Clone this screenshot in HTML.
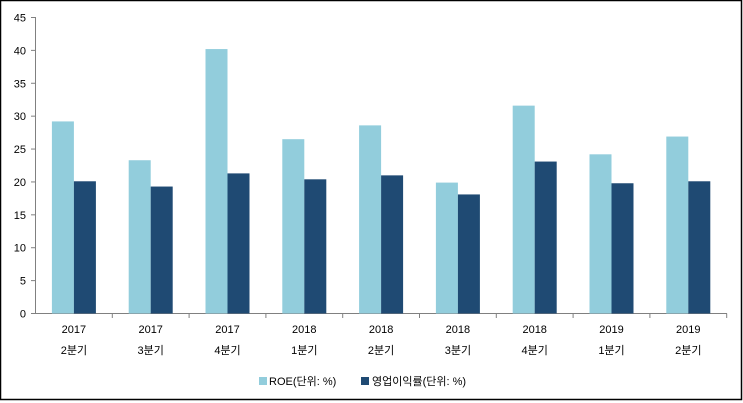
<!DOCTYPE html>
<html><head><meta charset="utf-8"><style>
html,body{margin:0;padding:0;background:#fff;}
svg{display:block;}
text{font-family:"Liberation Sans","Noto Sans CJK KR",sans-serif;font-size:11px;fill:#000;}
</style></head><body>
<svg width="743" height="403" viewBox="0 0 743 403">
<rect x="0.5" y="0.5" width="741" height="399" fill="#fff" stroke="#000" stroke-width="1.5"/>
<g id="axis" stroke="#808080" stroke-width="1">
<line x1="35.5" y1="17" x2="35.5" y2="313"/>
<line x1="35.5" y1="313.5" x2="727" y2="313.5"/>
</g>
<g id="yt"></g>
<g id="bars"></g>
<g id="xl"></g>
<rect x="259" y="377" width="8" height="8" fill="#92cddc"/>
<text x="269" y="385">ROE(단위: %)</text>
<rect x="361" y="377" width="8" height="8" fill="#1f4a73"/>
<text x="372" y="385">영업이익률(단위: %)</text>
<script>
var ns="http://www.w3.org/2000/svg";
function el(t,a,p,txt){var e=document.createElementNS(ns,t);for(var k in a)e.setAttribute(k,a[k]);if(txt!=null)e.textContent=txt;document.getElementById(p).appendChild(e);}
var y0=313.5,s=6.578;
for(var v=0;v<=45;v+=5){var y=y0-v*s;el('line',{x1:31,x2:35.5,y1:y,y2:y,stroke:'#808080'},'axis');el('text',{x:26,y:y+4,'text-anchor':'end'},'yt',v);}
var a=[29.2,23.3,40.2,26.5,28.6,19.9,31.6,24.2,26.9],b=[20.1,19.3,21.3,20.4,21.0,18.1,23.1,19.8,20.1];
var yr=['2017','2017','2017','2018','2018','2018','2018','2019','2019'],q=['2분기','3분기','4분기','1분기','2분기','3분기','4분기','1분기','2분기'];
var w=76.8;
for(var i=0;i<9;i++){var c=35.5+w*(i+0.5);
el('rect',{x:c-22,y:y0-a[i]*s,width:22,height:a[i]*s,fill:'#92cddc'},'bars');
el('rect',{x:c,y:y0-b[i]*s,width:22,height:b[i]*s,fill:'#1f4a73'},'bars');
var tx=35.5+w*(i+1);el('line',{x1:tx,x2:tx,y1:313.5,y2:318,stroke:'#808080'},'axis');
el('text',{x:c,y:333,'text-anchor':'middle'},'xl',yr[i]);
el('text',{x:c,y:354,'text-anchor':'middle'},'xl',q[i]);}
</script>
</svg>
</body></html>
